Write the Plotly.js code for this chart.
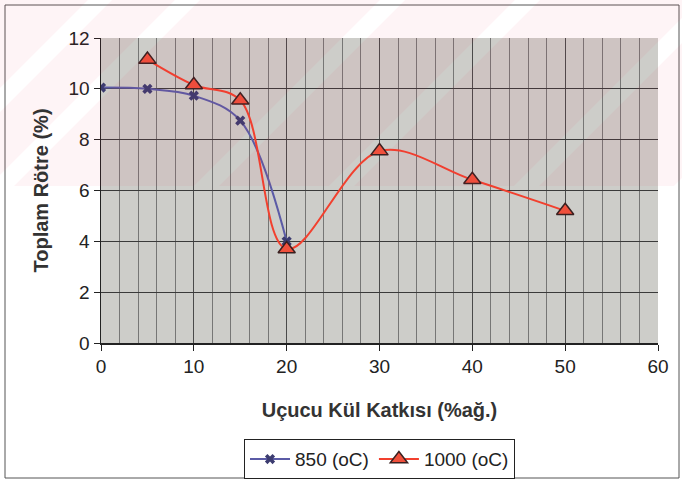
<!DOCTYPE html>
<html><head><meta charset="utf-8">
<script src="https://cdn.plot.ly/plotly-3.0.1.min.js"></script>
<style>html,body{margin:0;padding:0;background:#fff}#c{width:682px;height:480px}</style>
</head><body><div id="c"></div>
<script>
const x850 = [0, 5, 10, 15, 20];
const y850 = [10.05, 10.0, 9.73, 8.75, 4.0];
const x1000 = [5, 10, 15, 20, 30, 40, 50];
const y1000 = [11.15, 10.15, 9.55, 3.7, 7.55, 6.42, 5.2];
const name850 = "850 (oC)";
const name1000 = "1000 (oC)";
const xTitle = "Uçucu Kül Katkısı (%ağ.)";
const yTitle = "Toplam Rötre (%)";

const font = "Liberation Sans, Arial, sans-serif";
const W = 682, H = 480, L = 101, R = 24, T = 38, B = 137;
const pw = W - L - R, ph = H - T - B;
const px = v => (v - L) / pw;
const py = v => (H - B - v) / ph;

// faint pink scan watermark (diagonal bands in the top part of the page)
const wmBottom = 186;
const gaps = [[88, 112], [175, 200], [380, 405], [515, 540], [700, 725], [860, 885]];
const wmShapes = [];
let start = -200;
gaps.forEach(g => {
  const a = start, b = g[0];
  if (b > a) {
    const pts = [[a, 0], [b, 0], [b - wmBottom, wmBottom], [a - wmBottom, wmBottom]];
    const path = "M" + pts.map(p => px(p[0]).toFixed(4) + "," + py(p[1]).toFixed(4)).join(" L") + " Z";
    wmShapes.push({type: "path", xref: "paper", yref: "paper", path: path,
      fillcolor: "rgb(240,40,70)", opacity: 0.05, line: {width: 0}, layer: "above"});
  }
  start = g[1];
});

const traces = [
  {x: x850, y: y850, name: name850, mode: "lines+markers", type: "scatter",
   line: {color: "#5b5ba6", width: 2, shape: "spline", smoothing: 1},
   marker: {symbol: "x", size: 9, color: "#3c3c70", line: {width: 0}}},
  {x: x1000, y: y1000, name: name1000, mode: "lines+markers", type: "scatter",
   line: {color: "#f2402e", width: 2, shape: "spline", smoothing: 1},
   marker: {symbol: "triangle-up", size: 15, color: "#f0503c", line: {color: "#3a2020", width: 1.5}}}
];
const layout = {
  width: W, height: H,
  margin: {l: L, r: R, t: T, b: B},
  paper_bgcolor: "#ffffff",
  plot_bgcolor: "#cdcdc9",
  showlegend: true,
  font: {family: font, color: "#222"},
  xaxis: {range: [0, 60], dtick: 10, tick0: 0, showgrid: true, gridcolor: "#4a4a4a", gridwidth: 1,
    minor: {dtick: 2, showgrid: true, gridcolor: "#606060", gridwidth: 0.8},
    showline: true, linecolor: "#222", linewidth: 1.5, ticks: "outside", ticklen: 6, tickcolor: "#222",
    zeroline: false, tickfont: {size: 19, family: font, color: "#222"},
    title: {text: xTitle, font: {size: 20, family: font, color: "#333", weight: "bold"}, standoff: 26}},
  yaxis: {range: [0, 12], dtick: 2, showgrid: true, gridcolor: "#3a3a3a", gridwidth: 1,
    showline: true, linecolor: "#222", linewidth: 1.5, ticks: "outside", ticklen: 6, tickcolor: "#222",
    zeroline: false, tickfont: {size: 19, family: font, color: "#222"},
    title: {text: yTitle, font: {size: 20, family: font, color: "#333", weight: "bold"}, standoff: 14}},
  legend: {orientation: "h", x: 0.5, xanchor: "center", yref: "container", y: 0.085, yanchor: "top",
    bordercolor: "#222", borderwidth: 1, bgcolor: "#fff",
    font: {size: 19, family: font, color: "#222"}, itemwidth: 40},
  shapes: [
    {type: "rect", xref: "paper", yref: "paper", x0: px(5), x1: px(679), y0: py(478), y1: py(5),
     line: {color: "#555", width: 1}, layer: "below"}
  ].concat(wmShapes)
};
Plotly.newPlot("c", traces, layout, {displayModeBar: false, staticPlot: true});
</script></body></html>
